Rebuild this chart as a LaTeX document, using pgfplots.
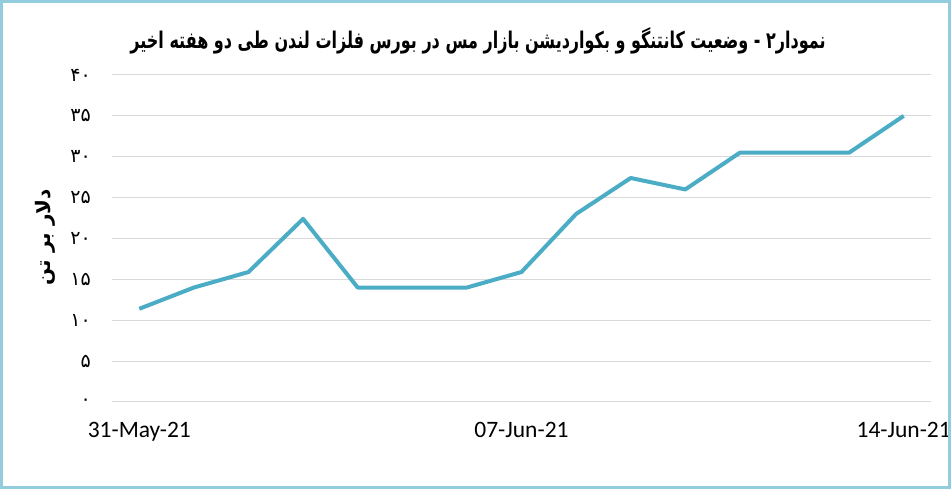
\documentclass[border=0pt]{standalone}
\usepackage{fontspec}
\usepackage{pgfplots}
\pgfplotsset{compat=1.18}
\setmainfont{Carlito}
\newfontfamily\fafont[Script=Arabic]{DejaVu Sans}
\TeXXeTstate=1
\definecolor{lineaqua}{HTML}{4BACC6}
\definecolor{frameaqua}{HTML}{93CDDD}
\definecolor{gridgray}{HTML}{D9D9D9}

\begin{document}
\begin{tikzpicture}[x=1pt,y=1pt]
\useasboundingbox (0,0) rectangle (951,489);
\begin{axis}[
  at={(112pt,87pt)}, anchor=south west,
  scale only axis, width=819pt, height=327pt,
  xmin=-0.5, xmax=14.5, ymin=0, ymax=40,
  axis line style={draw=none},
  ymajorgrids, grid style={gridgray, line width=1pt},
  major tick length=0pt,
  xtick={0,7,14}, xticklabels={31-May-21,07-Jun-21,14-Jun-21},
  xticklabel style={font=\fontsize{23.5}{28}\selectfont, inner sep=0pt, anchor=north, yshift=-20pt},
  ytick={0,5,...,40},
  yticklabels={۰,۵,۱۰,۱۵,۲۰,۲۵,۳۰,۳۵,۴۰},
  yticklabel style={font=\fafont\fontsize{19}{22}\selectfont, inner sep=0pt, anchor=east, xshift=-21pt},
  clip=false,
]
% spread in $/t, one point per day from 31 May to 14 Jun 2021
\addplot[lineaqua, line width=4pt, line join=round] coordinates {
  (0,11.4) (1,14.0) (2,15.9) (3,22.4) (4,14.0) (5,14.0) (6,14.0) (7,15.9)
  (8,23.0) (9,27.4) (10,26.0) (11,30.5) (12,30.5) (13,30.5) (14,35.0)
};
\end{axis}
\node[font=\fafont\bfseries\fontsize{20}{24}\selectfont] at (478,448)
  {\scalebox{0.8}[1.15]{\beginR نمودار۲ - وضعیت کانتنگو و بکواردیشن بازار مس در بورس فلزات لندن طی دو هفته اخیر\endR}};
\node[rotate=90, font=\fafont\bfseries\fontsize{20}{24}\selectfont] at (45,252)
  {\beginR دلار بر تن\endR};
\draw[frameaqua, line width=3pt] (1.5,1.5) rectangle (949.5,487.5);
\end{tikzpicture}
\end{document}
